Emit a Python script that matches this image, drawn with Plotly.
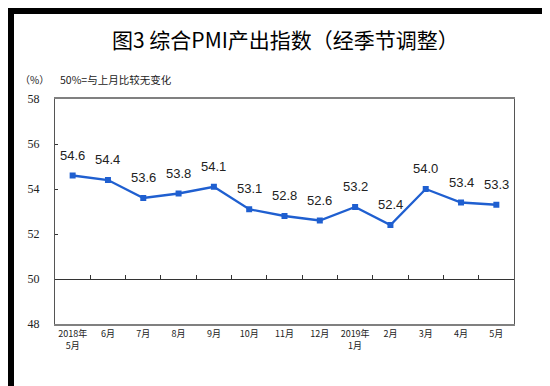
import plotly.graph_objects as go

categories = ["2018年<br>5月", "6月", "7月", "8月", "9月", "10月", "11月", "12月",
              "2019年<br>1月", "2月", "3月", "4月", "5月"]
values = [54.6, 54.4, 53.6, 53.8, 54.1, 53.1, 52.8, 52.6, 53.2, 52.4, 54.0, 53.4, 53.3]
y_ticks = [48, 50, 52, 54, 56, 58]
title_text = "图3 综合PMI产出指数（经季节调整）"
unit_text = "（%）"
note_text = "50%=与上月比较无变化"

xs = list(range(len(categories)))
boundaries = [i + 0.5 for i in xs[:-1]]

L, R, T, B = 47, 44, 91, 70
W, H = 550, 386
pw, ph = W - L - R, H - T - B

def px(x):
    return (x - L) / pw

def py(y):
    return (H - B - y) / ph

fig = go.Figure()
fig.add_trace(go.Scatter(
    x=xs, y=values, mode="lines+markers",
    line=dict(color="#1f5fd0", width=2.3),
    marker=dict(symbol="square", size=6, color="#1f5fd0"),
    showlegend=False, hoverinfo="skip"))
# dummy trace for the 50-line axis
fig.add_trace(go.Scatter(x=[xs[0]], y=[values[0]], xaxis="x2", mode="markers",
                         marker=dict(opacity=0), showlegend=False, hoverinfo="skip"))

annotations = []
for x, v in zip(xs, values):
    annotations.append(dict(x=x, y=v, text=f"{v:.1f}", showarrow=False,
                            yanchor="bottom", yshift=11,
                            font=dict(family="Liberation Sans, Arial", size=13, color="#222")))
annotations.append(dict(xref="paper", yref="paper", x=px(277), y=py(31), text=title_text,
                        showarrow=False, xanchor="center", yanchor="middle",
                        font=dict(family="Noto Sans CJK SC", size=21, color="#000")))
annotations.append(dict(xref="paper", yref="paper", x=px(10), y=py(72), text=unit_text,
                        showarrow=False, xanchor="left", yanchor="middle",
                        font=dict(family="Noto Sans CJK SC", size=10, color="#222")))
annotations.append(dict(xref="paper", yref="paper", x=px(50), y=py(72), text=note_text,
                        showarrow=False, xanchor="left", yanchor="middle",
                        font=dict(family="Noto Sans CJK SC", size=10.5, color="#222")))

shapes = [dict(type="rect", xref="paper", yref="paper", layer="below",
               x0=px(6), x1=px(544), y0=py(380), y1=py(6),
               fillcolor="white", line=dict(width=0))]

fig.update_layout(
    width=W, height=H,
    margin=dict(l=L, r=R, t=T, b=B),
    paper_bgcolor="black", plot_bgcolor="white",
    xaxis=dict(range=[-0.5, len(categories) - 0.5], tickmode="array", tickvals=xs,
               ticktext=categories, ticks="", showgrid=False, zeroline=False,
               showline=True, linecolor="#808080", linewidth=2, mirror=True,
               tickfont=dict(family="Noto Sans CJK SC", size=9, color="#222")),
    xaxis2=dict(range=[-0.5, len(categories) - 0.5], overlaying="x", anchor="free",
                position=(50 - y_ticks[0]) / (y_ticks[-1] - y_ticks[0]),
                side="bottom", tickmode="array", tickvals=boundaries,
                ticks="inside", ticklen=4, tickcolor="#333", tickwidth=1,
                showticklabels=False, showgrid=False, zeroline=False,
                showline=True, linecolor="#333", linewidth=1.2),
    yaxis=dict(range=[y_ticks[0], y_ticks[-1]], tickmode="array", tickvals=y_ticks,
               ticks="inside", ticklen=3, tickcolor="#333", showgrid=False, zeroline=False,
               showline=True, linecolor="#555", linewidth=1.2, mirror=True,
               ticklabelstandoff=12,
               tickfont=dict(family="Liberation Serif", size=12, color="#222")),
    annotations=annotations, shapes=shapes,
)

fig.write_html("out.html")
